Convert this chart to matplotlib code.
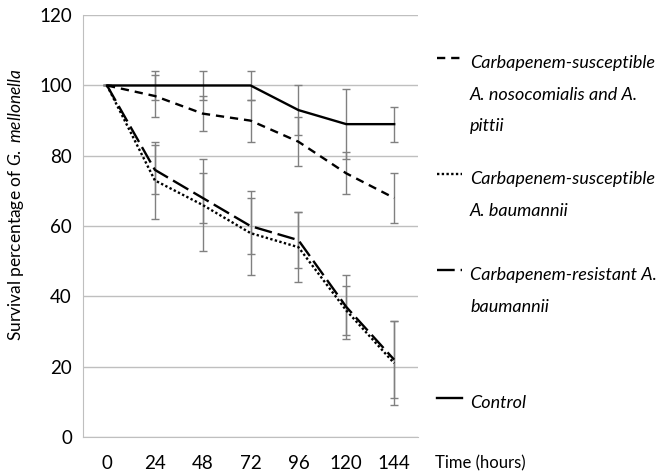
import matplotlib
matplotlib.use('Agg')
import matplotlib.pyplot as plt
from matplotlib.lines import Line2D

plt.rcParams['font.family'] = ['Lato', 'DejaVu Sans']
plt.rcParams['mathtext.fontset'] = 'custom'
plt.rcParams['mathtext.rm'] = 'Lato'
plt.rcParams['mathtext.it'] = 'Lato:italic'

hours = ['0', '24', '48', '72', '96', '120', '144']

nosocomialis = [100, 97, 92, 90, 84, 75, 68]
nosocomialis_err = [0, 6, 5, 6, 7, 6, 7]
susc_baumannii = [100, 73, 66, 58, 54, 36, 21]
susc_baumannii_err = [0, 11, 13, 12, 10, 7, 12]
resist_baumannii = [100, 76, 68, 60, 56, 37, 22]
resist_baumannii_err = [0, 7, 7, 8, 8, 9, 11]
control = [100, 100, 100, 100, 93, 89, 89]
control_err = [0, 4, 4, 4, 7, 10, 5]

labels = ['Carbapenem-susceptible\nA. nosocomialis and A.\npittii',
          'Carbapenem-susceptible\nA. baumannii',
          'Carbapenem-resistant A.\nbaumannii',
          'Control']
styles = [(0, (3.5, 2.5)), (0, (1, 1)), (0, (7.5, 2.5)), '-']

series = [(nosocomialis, nosocomialis_err), (susc_baumannii, susc_baumannii_err),
          (resist_baumannii, resist_baumannii_err), (control, control_err)]

fig = plt.figure(figsize=(6.7, 4.74), dpi=100)
ax = fig.add_axes([0.124, 0.078, 0.5, 0.89])

x = list(range(len(hours)))
for (vals, err), ls in zip(series, styles):
    ax.errorbar(x, vals, yerr=err, fmt='none', ecolor='#808080', elinewidth=1,
                capsize=3, capthick=1, zorder=2)
    ax.plot(x, vals, color='black', lw=1.7, linestyle=ls, zorder=3)

ax.set_xlim(-0.5, 6.5)
ax.set_ylim(0, 120)
ax.set_yticks(range(0, 121, 20))
ax.set_xticks(x)
ax.set_xticklabels(hours)
ax.grid(axis='y', color='#bfbfbf', lw=1)
ax.set_axisbelow(True)
for s in ['top', 'right']:
    ax.spines[s].set_visible(False)
for s in ['left', 'bottom']:
    ax.spines[s].set_color('#bfbfbf')
ax.tick_params(length=0, labelsize=13.5)
ax.tick_params(axis='x', pad=13)
ax.tick_params(axis='y', pad=8)
ax.set_ylabel(r'Survival percentage of $\it{G.\ mellonella}$', fontsize=12.5)
ax.yaxis.set_label_coords(-0.17, 0.55)

# legend drawn at the right side
text_y = [66, 182, 278, 406]
for lab, ls, ty in zip(labels, styles, text_y):
    yf = 1 - (ty - 11) / 474
    fig.add_artist(Line2D([437 / 670, 462 / 670], [1 - (ty - 8) / 474] * 2,
                          color='black', lw=1.7, linestyle=ls))
    fig.text(470 / 670, yf, lab, fontsize=13, style='italic', va='top',
             ha='left', linespacing=2.2)

fig.text(435 / 670, 1 - 463 / 474, 'Time (hours)', fontsize=12, va='center', ha='left')

fig.savefig('out.png', dpi=100)
